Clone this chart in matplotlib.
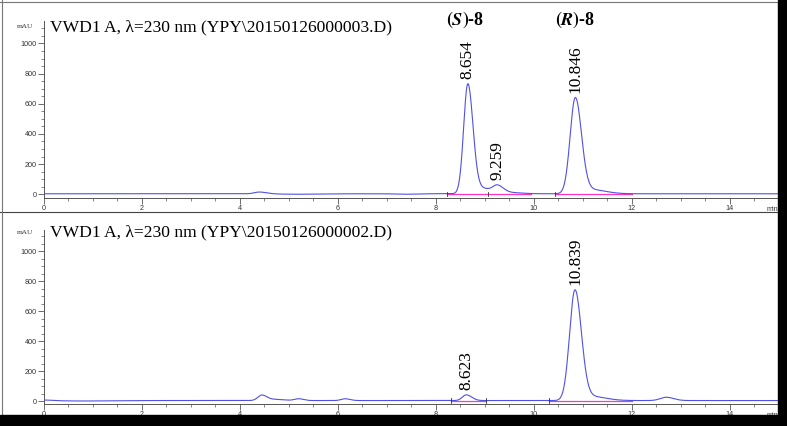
import matplotlib
matplotlib.use('Agg')
import matplotlib.pyplot as plt
import numpy as np
from matplotlib.patches import Rectangle
from matplotlib.lines import Line2D

matplotlib.rcParams['mathtext.fontset'] = 'stix'

# peak tables: retention time, height (mAU), left/right width
top_rt = [4.40, 5.20, 7.40, 8.654, 8.95, 9.259, 9.50, 10.846, 11.15]
top_h = [12, -3, -3, 725, 35, 45, 8, 630, 28]
top_wl = [0.10, 0.40, 0.20, 0.085, 0.15, 0.09, 0.20, 0.105, 0.20]
top_wr = [0.15, 0.40, 0.20, 0.105, 0.20, 0.12, 0.25, 0.125, 0.30]
top_base = 3

bot_rt = [0.0, 0.8, 4.45, 4.70, 5.20, 6.15, 8.623, 10.839, 11.15, 12.70]
bot_h = [4, -3, 35, 8, 12, 12, 38, 730, 28, 22]
bot_wl = [0.15, 0.40, 0.08, 0.15, 0.08, 0.08, 0.08, 0.11, 0.20, 0.12]
bot_wr = [0.15, 0.40, 0.10, 0.20, 0.10, 0.10, 0.11, 0.13, 0.30, 0.15]
bot_base = 3

# integration baselines and marks
top_int = [(8.22, 9.07), (9.07, 9.95), (10.43, 12.0)]
top_marks = [8.22, 9.07, 10.43]
bot_int = [(8.31, 9.02), (10.31, 12.0)]
bot_marks = [8.31, 9.02, 10.31]

top_labels = [(8.654, '8.654'), (9.259, '9.259'), (10.846, '10.846')]
bot_labels = [(8.623, '8.623'), (10.839, '10.839')]

titles = ['VWD1 A, \u03bb=230 nm (YPY\\20150126000003.D)',
          'VWD1 A, \u03bb=230 nm (YPY\\20150126000002.D)']

t = np.linspace(0, 15.2, 3000)


def trace(rt, h, wl, wr, base):
    y = np.full_like(t, base, dtype=float)
    for r, a, l, w in zip(rt, h, wl, wr):
        s = np.where(t < r, l, w)
        y += a * np.exp(-0.5 * ((t - r) / s) ** 2)
    return y


BLUE = '#5050e6'
MAG = '#ff33cc'
GRAY = '#555555'
SERIF = 'Liberation Serif'

fig = plt.figure(figsize=(7.87, 4.26), dpi=100)
W, H = 787, 426

ax_top = fig.add_axes([43.5 / W, 1 - 198 / H, 734.5 / W, 177 / H])
ax_bot = fig.add_axes([43.5 / W, 1 - 404 / H, 734.5 / W, 174 / H])

panels = [
    (ax_top, trace(top_rt, top_h, top_wl, top_wr, top_base), top_base, top_int, top_marks, top_labels, (-25, 1149), 27),
    (ax_bot, trace(bot_rt, bot_h, bot_wl, bot_wr, bot_base), bot_base, bot_int, bot_marks, bot_labels, (-20, 1140), 232),
]

for i, (ax, y, base, ints, marks, labs, ylim, title_px) in enumerate(panels):
    ax.plot(t, y, color=BLUE, lw=0.8, zorder=3)
    for a, b in ints:
        ax.plot([a, b], [base, base], color=MAG, lw=0.9, zorder=2)
    for m in marks:
        ax.plot([m, m], [base - 15, base + 15], color='#333333', lw=0.6, zorder=4)
    for r, s in labs:
        pk = np.interp(r, t, y)
        ax.text(r, pk + 30, s, rotation=90, ha='center', va='bottom',
                fontsize=12.5, family=SERIF)
    ax.set_xlim(0, 14.98)
    ax.set_ylim(*ylim)
    ax.spines['top'].set_visible(False)
    ax.spines['right'].set_visible(False)
    for sp in ['left', 'bottom']:
        ax.spines[sp].set_color(GRAY)
        ax.spines[sp].set_linewidth(0.7)
    ax.set_xticks(np.arange(0, 15, 2))
    ax.set_xticks(np.arange(0, 15, 0.5), minor=True)
    ax.set_yticks(np.arange(0, 1001, 200))
    ax.set_yticks(np.arange(0, 1101, 50), minor=True)
    ax.tick_params(which='major', length=4, width=0.6, color=GRAY,
                   labelsize=5.2, labelcolor='#333333', pad=1)
    ax.tick_params(which='minor', length=2, width=0.5, color=GRAY)
    for lb in ax.get_xticklabels() + ax.get_yticklabels():
        lb.set_family('Liberation Sans')
    ax.patch.set_alpha(0)
    # title inside panel
    fig.text(50 / W, 1 - title_px / H, titles[i], fontsize=12.6, family=SERIF,
             ha='left', va='center')
    fig.text(25 / W, 1 - title_px / H, 'mAU', fontsize=5.2, family=SERIF,
             ha='center', va='center', color='#333333')
    ax.text(14.75, -0.045, 'min', transform=ax.get_xaxis_transform(),
            fontsize=5.2, family='Liberation Sans', ha='left', va='top', color='#333333')

# enantiomer labels
ax_top.text(8.6, 1160, r'$\mathbf{(}\boldsymbol{S}\mathbf{)}$-8', fontsize=13, ha='center',
            va='center', family=SERIF, fontweight='bold')
ax_top.text(10.85, 1160, r'$\mathbf{(}\boldsymbol{R}\mathbf{)}$-8', fontsize=13, ha='center',
            va='center', family=SERIF, fontweight='bold')

# frame lines and black edges
fig.lines.append(Line2D([0, 1], [1 - 212 / H] * 2, transform=fig.transFigure, color='#444444', lw=0.8))
fig.lines.append(Line2D([0, 1], [1 - 2 / H] * 2, transform=fig.transFigure, color='#777777', lw=0.8))
fig.lines.append(Line2D([2 / W] * 2, [0, 1], transform=fig.transFigure, color='#777777', lw=0.8))
fig.patches.append(Rectangle((778 / W, 0), 9 / W, 1, transform=fig.transFigure,
                             color='black', zorder=10))
fig.patches.append(Rectangle((0, 0), 1, 11 / H, transform=fig.transFigure,
                             color='black', zorder=10))

fig.savefig('out.png', dpi=100)
